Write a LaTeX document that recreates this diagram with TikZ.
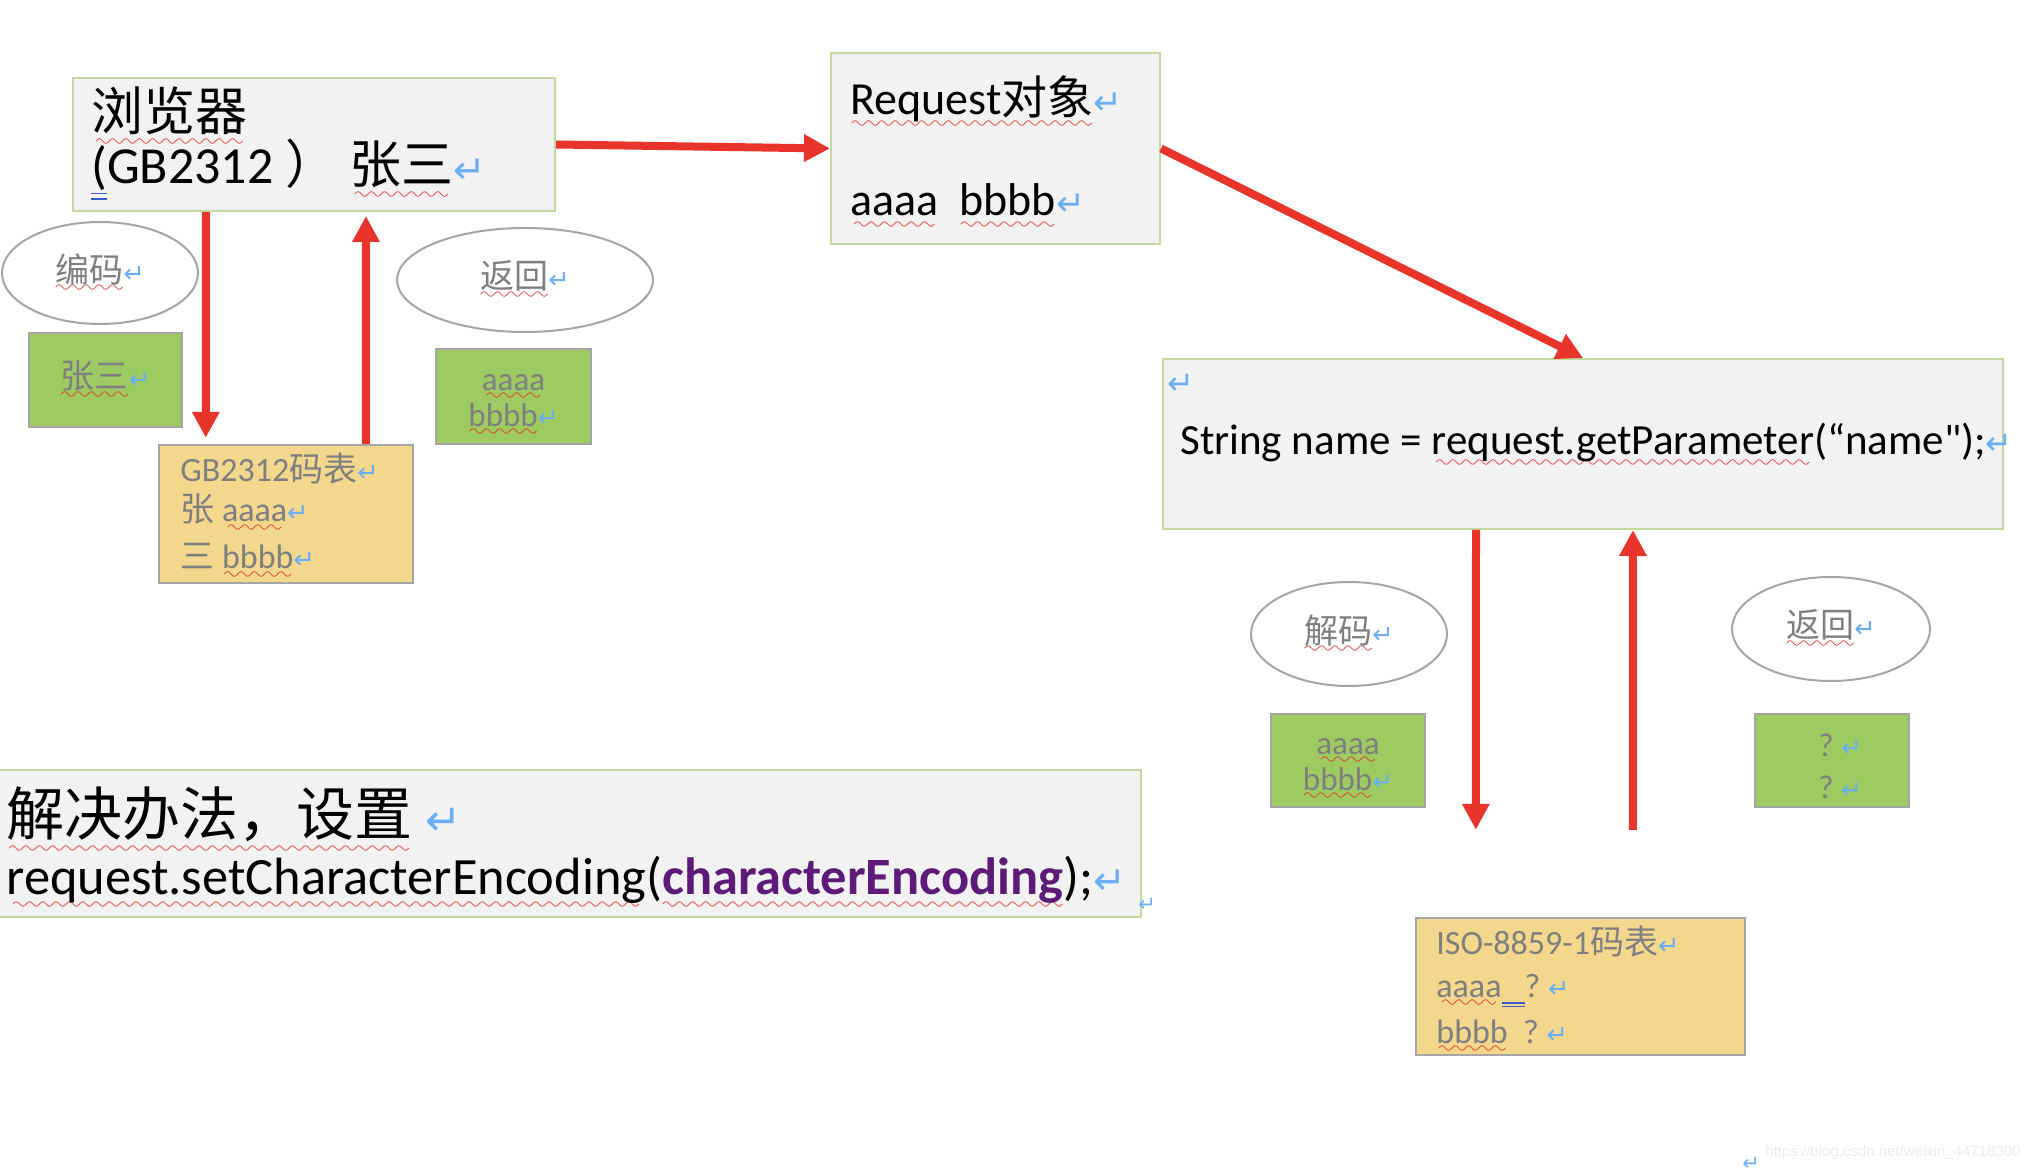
\documentclass[tikz,border=0pt]{standalone}
\usepackage{fontspec}
\usepackage{graphicx}
\usetikzlibrary{arrows.meta,shapes.geometric,calc}
\setmainfont{Carlito}
\newfontfamily\plainfont{Carlito}
\newfontfamily\cjk{Noto Sans CJK SC}
\newfontfamily\symfont{DejaVu Sans}
\newfontfamily\webfont{Liberation Sans}

\definecolor{panelfill}{HTML}{F2F2F2}
\definecolor{panelline}{HTML}{C3D99E}
\definecolor{leafgreen}{HTML}{9DCB62}
\definecolor{tabyellow}{HTML}{F2D78C}
\definecolor{edgegray}{HTML}{A5A5A5}
\definecolor{txtgray}{HTML}{7F7F7F}
\definecolor{arrowred}{HTML}{E8342A}
\definecolor{retblue}{HTML}{6AAEF5}
\definecolor{dblblue}{HTML}{3A5BD0}
\definecolor{codepurple}{HTML}{5E1A78}
\definecolor{squigred}{HTML}{E8302A}

% wavy and double underlines
\font\wavefont=lasy10
\newsavebox\markbox
\newcommand{\sq}[1]{\sbox\markbox{#1}%
  \rlap{\lower0.3em\hbox to\wd\markbox{\color{squigred}\cleaders\hbox{\wavefont\char58}\hfill}}%
  \usebox\markbox}
\newcommand{\dl}[1]{\sbox\markbox{#1}%
  \rlap{\color{dblblue}\rule[-0.2em]{\wd\markbox}{0.8pt}}%
  \rlap{\color{dblblue}\rule[-0.3em]{\wd\markbox}{0.8pt}}%
  \usebox\markbox}
\newcommand{\ret}{{\symfont\color{retblue}\scalebox{0.75}{↵}}}

\tikzset{
  panel/.style={rectangle, draw=panelline, fill=panelfill, line width=1pt},
  leaf/.style={rectangle, draw=edgegray, fill=leafgreen, line width=1.2pt, text=txtgray, align=center,
    font=\fontsize{16.5}{18}\selectfont},
  tab/.style={rectangle, draw=edgegray, fill=tabyellow, line width=1.2pt},
  oval/.style={ellipse, draw=edgegray, fill=white, line width=1pt, text=txtgray,
    font=\cjk\fontsize{17}{19}\selectfont},
  line/.style={anchor=base west, inner sep=0pt},
  big/.style={font=\fontsize{26}{28}\selectfont},
  mid/.style={font=\fontsize{23}{25}\selectfont},
  code/.style={font=\fontsize{21.5}{23}\selectfont},
  small/.style={font=\fontsize{17}{19}\selectfont, text=txtgray},
  flow/.style={->, line width=4pt, draw=arrowred}
}

\begin{document}
\begin{tikzpicture}[x=0.5pt, y=-0.5pt, >={Triangle[length=13pt,width=13pt]}]
    \useasboundingbox (0,0) rectangle (2042,1170);

    % 1. Main panels
    \node[panel, minimum width=241pt, minimum height=66.5pt] (browser) at (314,144.5) {};
    \node[panel, minimum width=164.5pt, minimum height=95.5pt] (request) at (995.5,148.5) {};
    \node[panel, minimum width=420pt, minimum height=85pt] (code) at (1583,444) {};
    \node[panel, minimum width=574pt, minimum height=73.5pt] (fix) at (567,843.5) {};

    \node[line, big] (browserA) at (91,131) {\cjk\sq{浏览器}};
    \node[line, big] (browserB) at (91,184) {\dl{(}GB2312 {\cjk ）\hspace{6pt}\sq{张三}}\ret};
    \node[line, mid] (requestA) at (850,115) {\sq{Request{\cjk 对象}}\ret};
    \node[line, mid] (requestB) at (850,216) {\sq{aaaa}\ \ \sq{bbbb}\ret};
    \node[line, code] (codeA) at (1167,395) {\ret};
    \node[line, code] (codeB) at (1180,455) {String name = \sq{request.getParameter}(“name{\plainfont"});\ret};
    \node[line, font=\cjk\fontsize{29}{31}\selectfont] (fixA) at (6,836) {\sq{解决办法，设置}\ \ret};
    \node[line, font=\fontsize{26.2}{28}\selectfont] (fixB) at (6,894)
        {\sq{request.setCharacterEncoding}(\textbf{\color{codepurple}\sq{characterEncoding}});\ret};

    % 2. Browser side: encode / return
    \node[oval, minimum width=98pt, minimum height=51pt] (encode) at (100,273) {\sq{编码}\ret};
    \node[leaf, minimum width=76.5pt, minimum height=47pt] (nameBox) at (105.5,380) {\cjk\fontsize{17}{19}\selectfont\sq{张三}\ret};
    \node[oval, minimum width=128pt, minimum height=52pt] (backA) at (525,280) {\sq{返回}\ret};
    \node[leaf, minimum width=77.5pt, minimum height=47.5pt] (byteBoxA) at (513.5,396.5)
        {\rule{0pt}{17pt}\sq{aaaa}\\\sq{bbbb}\ret};
    \node[tab, minimum width=127pt, minimum height=69pt] (gbtab) at (286,514) {};
    \node[line, small] (gbA) at (180,482) {GB2312{\cjk 码表}\ret};
    \node[line, small] (gbB) at (180,522) {{\cjk 张} \sq{aaaa}\ret};
    \node[line, small] (gbC) at (180,569) {{\cjk 三} \sq{bbbb}\ret};

    % 3. Server side: decode / return
    \node[oval, minimum width=98pt, minimum height=52pt] (decode) at (1349,634) {\sq{解码}\ret};
    \node[leaf, minimum width=77pt, minimum height=46.5pt] (byteBoxB) at (1348,760.5)
        {\rule{0pt}{17pt}\sq{aaaa}\\\sq{bbbb}\ret};
    \node[oval, minimum width=99pt, minimum height=52pt] (backB) at (1831,629) {\sq{返回}\ret};
    \node[leaf, minimum width=77pt, minimum height=46.5pt] (askBox) at (1832,760.5)
        {\rule{0pt}{17pt}\hspace{8pt}?\ \ret\\[3pt]\hspace{8pt}?\ \ret};
    \node[tab, minimum width=164.5pt, minimum height=68.5pt] (iso) at (1580.5,986.5) {};
    \node[line, small] (isoA) at (1436,955) {ISO-8859-1{\cjk 码表}\ret};
    \node[line, small] (isoB) at (1436,997) {\sq{aaaa}\dl{\ \ \ }?\ \ret};
    \node[line, small] (isoC) at (1436,1043) {\sq{bbbb}\ \ ?\ \ret};

    % 4. Arrows
    \draw[flow] (browser.east) -- (request.west);
    \draw[flow] (request.east) -- (code.north);
    \draw[flow, shorten >=3pt] ($(browser.south west)+(134,0)$) -- ($(gbtab.north west)+(48,0)$);
    \draw[flow, shorten >=2pt] ($(gbtab.north west)+(208,0)$) -- ($(browser.south west)+(294,0)$);
    \draw[flow, shorten >=43.5pt] ($(code.south west)+(314,0)$) -- ($(iso.north west)+(61,0)$);
    \draw[flow, shorten <=43.5pt] ($(iso.north west)+(218,0)$) -- ($(code.south west)+(471,0)$);

    % 5. Stray marks
    \node[line, font=\fontsize{14}{16}\selectfont] (retA) at (1138,912) {\ret};
    \node[line, font=\fontsize{14}{16}\selectfont] (retB) at (1742,1170) {\ret};
    \node[line, font=\webfont\fontsize{7.5}{9}\selectfont, text=gray!15] (mark) at (1765,1156)
        {https://blog.csdn.net/weixin\_44718300};
\end{tikzpicture}
\end{document}
